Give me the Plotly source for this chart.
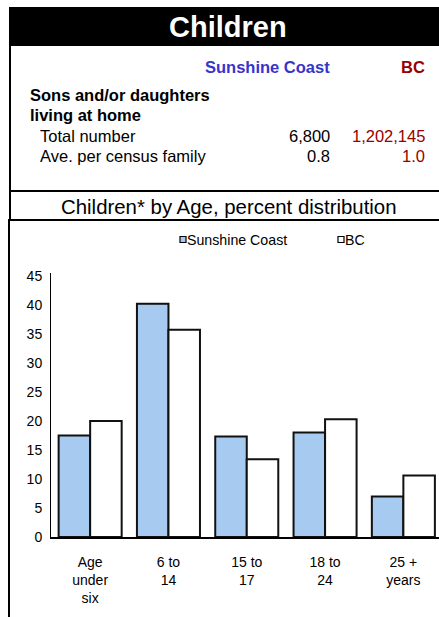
import plotly.graph_objects as go

# ---- data ----
categories = ["Age<br>under<br>six", "6 to<br>14", "15 to<br>17", "18 to<br>24", "25 +<br>years"]
series_names = ["Sunshine Coast", "BC"]
sunshine_coast = [17.5, 40.2, 17.3, 18.0, 7.0]
bc = [20.0, 35.7, 13.4, 20.3, 10.6]
y_ticks = [0, 5, 10, 15, 20, 25, 30, 35, 40, 45]

table_rows = ["Total number", "Ave. per census family"]
table_sc = ["6,800", "0.8"]
table_bc = ["1,202,145", "1.0"]

FONT = "Liberation Sans, Arial, sans-serif"
W, H = 439, 617
L, R, T, B = 51, 0, 273, 80
PW, PH = W - L - R, H - T - B


def px(x):
    return (x - L) / PW


def py(y):
    return (H - B - y) / PH


SC_FILL = "#A7CAF0"
BLUE = "#3535CC"
DRED = "#990000"

fig = go.Figure()
fig.add_trace(go.Bar(x=categories, y=sunshine_coast, name=series_names[0],
                     marker=dict(color=SC_FILL, line=dict(color="#111111", width=2)),
                     showlegend=False))
fig.add_trace(go.Bar(x=categories, y=bc, name=series_names[1],
                     marker=dict(color="white", line=dict(color="#111111", width=2)),
                     showlegend=False))

shapes = []
ann = []


def rect(x0, y0, x1, y1, fill, line=None, lw=0):
    shapes.append(dict(type="rect", xref="paper", yref="paper",
                       x0=px(x0), x1=px(x1), y0=py(y0), y1=py(y1),
                       fillcolor=fill, line=dict(color=line or fill, width=lw), layer="above"))


def line(x0, y0, x1, y1, w=2, c="black"):
    shapes.append(dict(type="line", xref="paper", yref="paper",
                       x0=px(x0), x1=px(x1), y0=py(y0), y1=py(y1),
                       line=dict(color=c, width=w), layer="above"))


def text(s, x, y, size, color="black", bold=False, anchor="left"):
    ann.append(dict(text=("<b>%s</b>" % s) if bold else s, xref="paper", yref="paper",
                    x=px(x), y=py(y), xanchor=anchor, yanchor="middle", showarrow=False,
                    font=dict(family=FONT, size=size, color=color)))


# header bar
rect(9, 7, 439, 46, "black")
text("Children", 228, 27, 29, "white", True, "center")
# frame lines
line(10, 46, 10, 219)
line(9, 191, 439, 191)
line(8, 220, 439, 220)
line(9, 219, 9, 617)

# table
text(series_names[0], 332, 67, 16.5, BLUE, True, "right")
text(series_names[1], 427, 67, 16.5, DRED, True, "right")
text("Sons and/or daughters", 28, 95, 16.5, "black", True)
text("living at home", 28, 115, 16.5, "black", True)
for i, lab in enumerate(table_rows):
    yy = 136 + i * 19.5
    text(lab, 38, yy, 16.5)
    text(table_sc[i], 332, yy, 16.5, "black", False, "right")
    text(table_bc[i], 427, yy, 16.5, DRED, False, "right")

# chart title
text("Children* by Age, percent distribution", 229, 207, 20.4, "black", False, "center")

# legend
rect(180, 236.5, 186, 242.5, SC_FILL, "black", 1.2)
text(series_names[0], 185, 239.5, 14.2)
rect(338, 236.5, 344, 242.5, "white", "black", 1.2)
text(series_names[1], 343, 239.5, 14.2)

fig.update_layout(
    width=W, height=H,
    margin=dict(l=L, r=R, t=T, b=B, pad=0),
    paper_bgcolor="white", plot_bgcolor="white",
    barmode="group", bargap=0.195, bargroupgap=0,
    shapes=shapes, annotations=ann,
    font=dict(family=FONT, size=14, color="black"),
    showlegend=False,
)
fig.update_xaxes(type="category", range=[-0.5, 4.455], showline=True, linecolor="black",
                 linewidth=1.5, ticks="", showgrid=False, zeroline=False,
                 tickfont=dict(size=14), ticklabelstandoff=11, fixedrange=True)
fig.update_yaxes(range=[0, 45.5], tickvals=y_ticks, showline=True, linecolor="black",
                 linewidth=1, ticks="", showgrid=False, zeroline=False,
                 tickfont=dict(size=14), ticklabelstandoff=5, fixedrange=True)

fig.write_html("out.html", config={"displayModeBar": False},
               post_script="document.body.style.margin='0px';document.body.style.overflow='hidden';")
